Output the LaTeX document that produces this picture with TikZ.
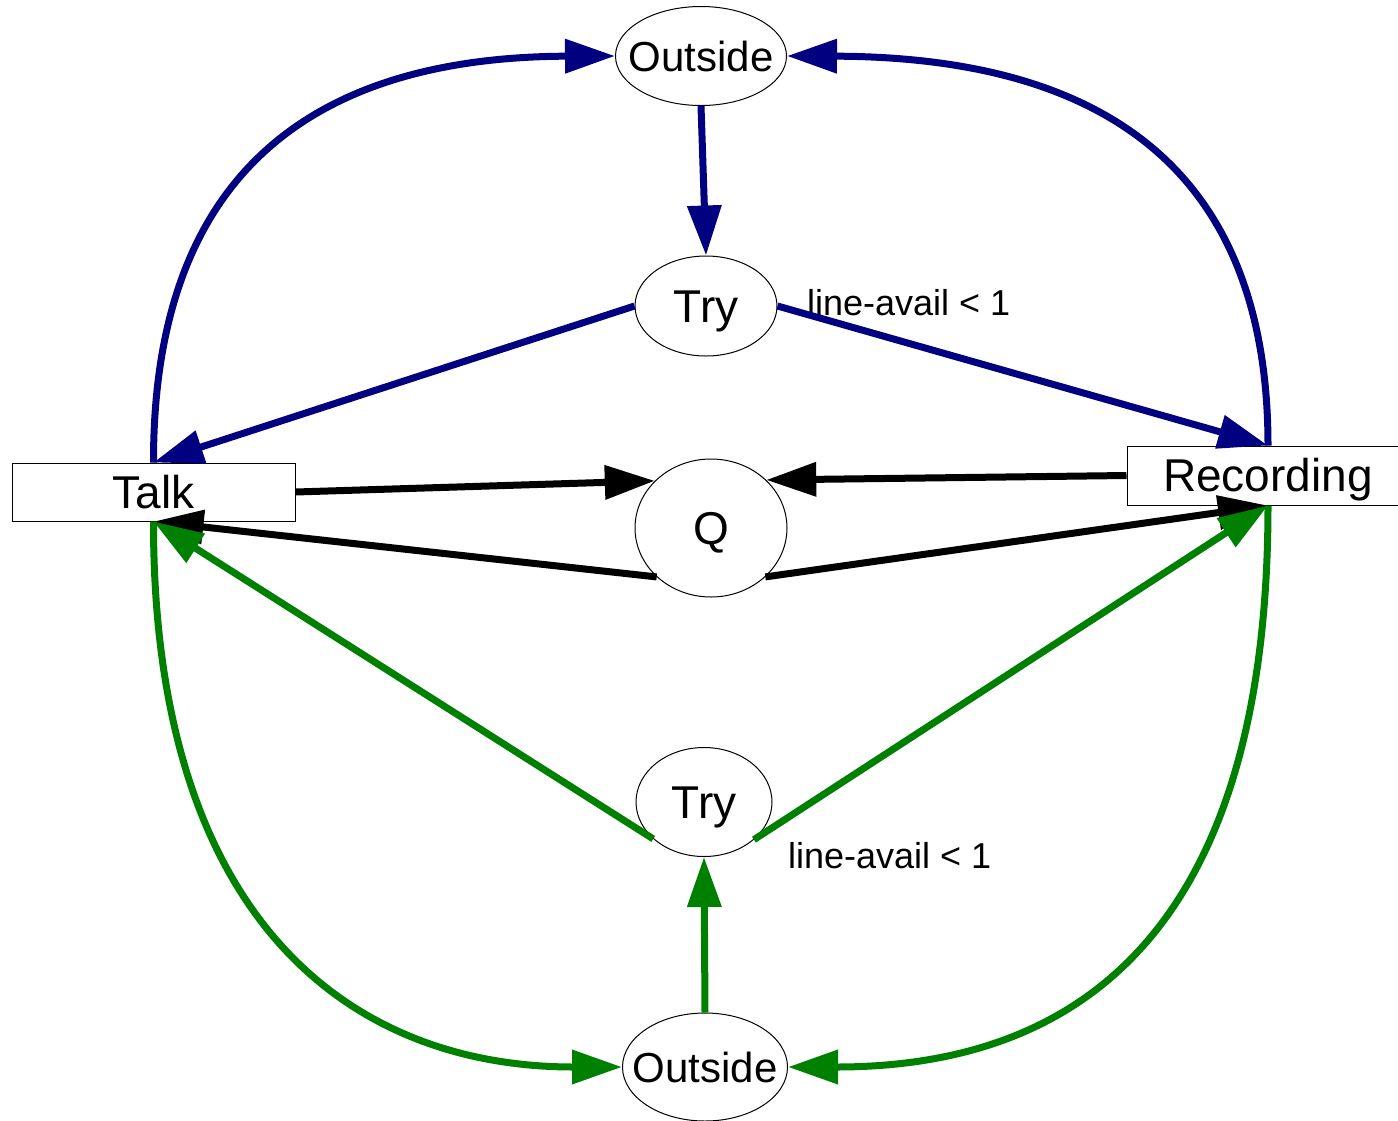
\documentclass[tikz,border=0pt]{standalone}
\usepackage{fontspec}
\setmainfont{Liberation Sans}
\usetikzlibrary{arrows.meta,shapes.geometric}
\definecolor{navyc}{RGB}{0,0,128}
\definecolor{greenc}{RGB}{0,128,0}
\begin{document}
\begin{tikzpicture}[x=1pt,y=-1pt,
  shp/.style={draw=black, line width=1pt, fill=white, inner sep=0pt,
    text height=33pt, text depth=1pt, font=\fontsize{46}{50}\selectfont},
  ell/.style={shp, ellipse},
  box/.style={shp, rectangle},
  outfont/.style={font=\fontsize{42}{46}\selectfont, text height=30pt, text depth=0pt},
  lbl/.style={font=\fontsize{36}{40}\selectfont, anchor=base west, inner sep=0pt},
  edge/.style={line width=7pt, -{Triangle[length=50pt,width=33pt]}},
  nav/.style={edge, draw=navyc},
  blk/.style={edge, draw=black},
  grn/.style={edge, draw=greenc}]
\useasboundingbox (0,0) rectangle (1398,1120);
\clip (0,0) rectangle (1398,1120);
% nodes
\node[ell, outfont, minimum width=171pt, minimum height=99pt] (outT) at (701,56) {\makebox[0pt]{Outside}};
\node[ell, minimum width=142pt, minimum height=100pt] (tryT) at (706,306) {\makebox[0pt]{Try}};
\node[box, minimum width=283pt, minimum height=58pt] (talk) at (153.5,492) {Talk};
\node[box, minimum width=282pt, minimum height=59pt] (rec) at (1268,475.5) {Recording};
\node[ell, minimum width=152pt, minimum height=138pt] (q) at (711,528) {\makebox[0pt]{Q}};
\node[ell, minimum width=136pt, minimum height=109pt] (tryB) at (704,802) {\makebox[0pt]{Try}};
\node[ell, outfont, minimum width=165pt, minimum height=108pt] (outB) at (705,1067) {\makebox[0pt]{Outside}};
\node[lbl] (lblT) at (807,315) {line-avail < 1};
\node[lbl] (lblB) at (788,868) {line-avail < 1};
% blue edges
\draw[nav] (talk.north) .. controls (153,150) and (340,57) .. (outT.west);
\draw[nav] (rec.north) .. controls (1268,146) and (1074,57) .. (outT.east);
\draw[nav] (outT.south) -- (tryT.north);
\draw[nav] (tryT.west) -- (talk.north);
\draw[nav] (tryT.east) -- (rec.north);
% black edges
\draw[blk] (talk.east) -- (q.140);
\draw[blk] (rec.west) -- (q.41);
\draw[blk] (q.222) -- (talk.south);
\draw[blk] (q.318) -- (rec.south);
% green edges
\draw[grn] (tryB.216) -- (talk.south);
\draw[grn] (tryB.323) -- (rec.south);
\draw[grn] (outB.north) -- (tryB.south);
\draw[grn] (talk.south) .. controls (153,920) and (350,1067) .. (outB.west);
\draw[grn] (rec.south) .. controls (1268,930) and (1080,1067) .. (outB.east);
\end{tikzpicture}
\end{document}
